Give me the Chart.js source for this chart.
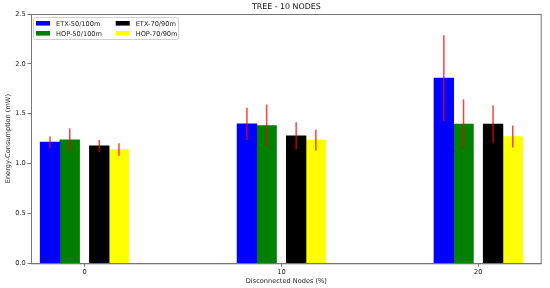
<!DOCTYPE html>
<html lang="en">
<head>
    <meta charset="UTF-8">
    <script src="https://cdn.jsdelivr.net/npm/chart.js@4"></script>
    <title>TREE - 10 NODES</title>
    <style>
        body { margin: 0; background: white; }
        .grafico { width: 550px; height: 288px; }
    </style>
</head>
<body>
    <div class="grafico">
        <canvas id="barras"></canvas>
    </div>
<script>
    // dados
    var titulo = 'TREE - 10 NODES'
    var categorias = [0, 10, 20]
    var nomes = ['ETX-50/100m', 'HOP-50/100m', 'ETX-70/90m', 'HOP-70/90m']
    var etx50 = [1.215, 1.399, 1.857]
    var hop50 = [1.239, 1.382, 1.396]
    var etx70 = [1.179, 1.279, 1.396]
    var hop70 = [1.141, 1.236, 1.272]
    var erroEtx50 = [0.057, 0.162, 0.43]
    var erroHop50 = [0.114, 0.209, 0.248]
    var erroEtx70 = [0.058, 0.135, 0.186]
    var erroHop70 = [0.063, 0.104, 0.11]
    var yTicks = [0, 0.5, 1.0, 1.5, 2.0, 2.5]

    var series = [etx50, hop50, etx70, hop70]
    var erros = [erroEtx50, erroHop50, erroEtx70, erroHop70]
    var cores = ['blue', 'green', 'black', 'yellow']
    var deslocamento = [-1.75, -0.75, 0.75, 1.75]

    Chart.defaults.font.family = 'DejaVu Sans'
    Chart.defaults.font.size = 6.6
    Chart.defaults.color = '#222'

    var datasets = series.map(function (serie, i) {
        return {
            label: nomes[i],
            data: categorias.map(function (c, j) {
                return { x: c + deslocamento[i], y: serie[j] }
            }),
            backgroundColor: cores[i],
            borderWidth: 0,
            grouped: false,
            barThickness: 19.7
        }
    })

    // barras de erro em vermelho
    var barrasErro = {
        id: 'barrasErro',
        afterDatasetsDraw: function (chart) {
            var ctx = chart.ctx
            var x = chart.scales.x
            var y = chart.scales.y
            ctx.save()
            ctx.strokeStyle = 'rgba(255, 0, 0, 0.75)'
            ctx.lineWidth = 1.5
            series.forEach(function (serie, i) {
                serie.forEach(function (v, j) {
                    var px = x.getPixelForValue(categorias[j] + deslocamento[i])
                    ctx.beginPath()
                    ctx.moveTo(px, y.getPixelForValue(v + erros[i][j]))
                    ctx.lineTo(px, y.getPixelForValue(v - erros[i][j]))
                    ctx.stroke()
                })
            })
            ctx.restore()
        }
    }

    // moldura, titulo e legenda no estilo matplotlib
    var moldura = {
        id: 'moldura',
        afterDraw: function (chart) {
            var ctx = chart.ctx
            var a = chart.chartArea
            ctx.save()
            ctx.strokeStyle = '#777'
            ctx.lineWidth = 1
            ctx.strokeRect(a.left + 0.5, a.top + 0.5, a.right - a.left - 1, a.bottom - a.top)

            ctx.fillStyle = '#111'
            ctx.font = '7.9px "DejaVu Sans"'
            ctx.textAlign = 'center'
            ctx.textBaseline = 'middle'
            ctx.fillText(titulo, (a.left + a.right) / 2, 7)

            ctx.fillStyle = 'rgba(255,255,255,0.8)'
            ctx.strokeStyle = '#d0d0d0'
            ctx.beginPath()
            ctx.roundRect(a.left + 2.5, a.top + 3.5, 145, 22, 2)
            ctx.fill()
            ctx.stroke()

            ctx.font = '6.6px "DejaVu Sans"'
            ctx.textAlign = 'left'
            nomes.forEach(function (nome, i) {
                var col = Math.floor(i / 2)
                var lin = i % 2
                var bx = a.left + 5 + col * 79.7
                var by = a.top + 9.3 + lin * 10
                ctx.fillStyle = cores[i]
                ctx.fillRect(bx, by - 2.3, 14, 4.6)
                ctx.fillStyle = '#222'
                ctx.fillText(nome, bx + 20, by + 0.5)
            })
            ctx.restore()
        }
    }

    var grafico = new Chart(document.getElementById('barras'), {
        type: 'bar',
        data: { datasets: datasets },
        plugins: [barrasErro, moldura],
        options: {
            responsive: true,
            maintainAspectRatio: false,
            animation: false,
            layout: { padding: { left: 0, right: 8.3, top: 14, bottom: 0 } },
            plugins: {
                legend: { display: false },
                tooltip: { enabled: false },
                title: { display: false }
            },
            scales: {
                x: {
                    type: 'linear',
                    min: -2.717,
                    max: 23.22,
                    offset: false,
                    afterBuildTicks: function (s) {
                        s.ticks = categorias.map(function (c) { return { value: c } })
                    },
                    afterFit: function (s) { s.height = 24.7 },
                    grid: { offset: false, drawOnChartArea: false, tickLength: 3.5, color: '#777' },
                    border: { color: '#777' },
                    ticks: { padding: 1.8, maxRotation: 0 },
                    title: {
                        display: true,
                        text: 'Disconnected Nodes (%)',
                        padding: { top: 0, bottom: 2.3 }
                    }
                },
                y: {
                    min: 0,
                    max: 2.5,
                    afterBuildTicks: function (s) {
                        s.ticks = yTicks.map(function (v) { return { value: v } })
                    },
                    afterFit: function (s) { s.width = 31 },
                    grid: { drawOnChartArea: false, tickLength: 3.5, color: '#777' },
                    border: { color: '#777' },
                    ticks: {
                        padding: 1.8,
                        callback: function (v) { return Number(v).toFixed(1) }
                    },
                    title: {
                        display: true,
                        text: 'Energy-Consumption (mW)',
                        padding: { top: 4.5, bottom: 0 }
                    }
                }
            }
        }
    })
</script>
</body>
</html>
